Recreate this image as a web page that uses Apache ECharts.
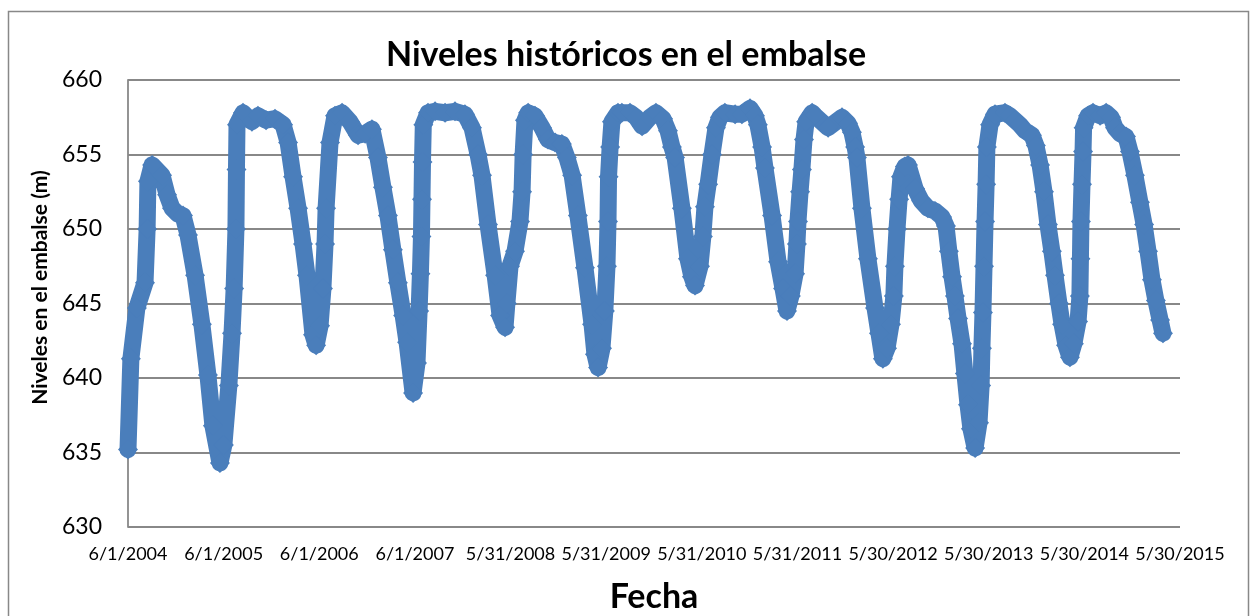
<!DOCTYPE html>
<html>
<head>
<meta charset="utf-8">
<script src="https://cdn.jsdelivr.net/npm/echarts@6/dist/echarts.min.js"></script>
<style>
  html, body { margin: 0; padding: 0; background: #fff; }
  #main { width: 1252px; height: 616px; }
</style>
</head>
<body>
<div id="main"></div>
<script>
// fechas (aprox.)
const fechas = [
  '2004-06-01','2004-06-12','2004-07-05','2004-08-05','2004-08-13','2004-08-16','2004-09-01','2004-10-09','2004-10-28','2004-11-16',
  '2004-12-09','2004-12-28','2005-01-16','2005-02-12','2005-03-10','2005-04-02','2005-04-21','2005-05-18','2005-06-02','2005-06-21',
  '2005-07-03','2005-07-11','2005-07-18','2005-07-20','2005-07-22','2005-08-14','2005-09-17','2005-10-10','2005-11-10','2005-12-14',
  '2006-01-14','2006-02-02','2006-02-21','2006-03-12','2006-03-31','2006-04-15','2006-05-08','2006-05-20','2006-06-04','2006-06-15',
  '2006-06-23','2006-06-27','2006-07-12','2006-07-31','2006-08-27','2006-09-26','2006-10-27','2006-11-23','2006-12-19','2007-01-11',
  '2007-01-30','2007-02-18','2007-03-09','2007-03-28','2007-04-17','2007-05-02','2007-05-25','2007-06-09','2007-06-17','2007-06-22',
  '2007-06-26','2007-06-28','2007-06-30','2007-07-03','2007-07-21','2007-08-17','2007-09-24','2007-11-01','2007-12-09','2008-01-05',
  '2008-01-28','2008-02-12','2008-03-06','2008-04-02','2008-04-21','2008-05-10','2008-05-17','2008-05-29','2008-06-17','2008-07-06',
  '2008-07-14','2008-07-18','2008-07-25','2008-08-06','2008-09-01','2008-09-28','2008-10-21','2008-11-17','2008-12-13','2009-01-01',
  '2009-01-21','2009-02-12','2009-03-11','2009-04-07','2009-04-18','2009-04-30','2009-05-15','2009-05-26','2009-06-03','2009-06-07',
  '2009-06-09','2009-06-15','2009-06-22','2009-07-15','2009-07-30','2009-08-30','2009-09-22','2009-10-15','2009-11-14','2009-12-07',
  '2010-01-03','2010-01-22','2010-02-06','2010-02-18','2010-03-16','2010-04-08','2010-04-23','2010-05-05','2010-05-24','2010-06-04',
  '2010-06-12','2010-06-24','2010-07-09','2010-07-24','2010-08-08','2010-08-27','2010-10-05','2010-10-31','2010-12-01','2010-12-20',
  '2010-12-31','2011-01-16','2011-01-27','2011-02-23','2011-03-18','2011-04-06','2011-04-21','2011-05-06','2011-05-22','2011-05-29',
  '2011-06-02','2011-06-10','2011-06-17','2011-06-25','2011-07-03','2011-07-26','2011-08-06','2011-09-25','2011-11-17','2011-12-10',
  '2011-12-25','2012-01-06','2012-01-13','2012-02-01','2012-02-24','2012-03-22','2012-04-06','2012-04-21','2012-05-07','2012-05-22',
  '2012-06-02','2012-06-06','2012-06-14','2012-06-22','2012-06-29','2012-07-14','2012-07-26','2012-08-22','2012-09-14','2012-10-10',
  '2012-11-06','2012-12-03','2012-12-18','2012-12-29','2013-01-10','2013-01-21','2013-02-02','2013-02-17','2013-02-28','2013-03-12',
  '2013-03-23','2013-04-08','2013-04-23','2013-05-01','2013-05-04','2013-05-08','2013-05-12','2013-05-16','2013-05-20','2013-05-23',
  '2013-06-04','2013-06-23','2013-07-31','2013-08-19','2013-09-07','2013-09-26','2013-10-15','2013-11-11','2013-11-26','2013-12-12',
  '2013-12-27','2014-01-11','2014-01-26','2014-02-07','2014-02-22','2014-03-06','2014-03-21','2014-04-05','2014-04-20','2014-05-06',
  '2014-05-13','2014-05-15','2014-05-17','2014-05-21','2014-05-25','2014-05-27','2014-06-13','2014-07-02','2014-07-29','2014-08-21',
  '2014-09-09','2014-09-24','2014-10-13','2014-11-05','2014-11-20','2014-12-09','2014-12-28','2015-01-13','2015-01-28','2015-02-12',
  '2015-02-27','2015-03-15','2015-03-26'
];

// niveles en el embalse (m)
const niveles = [
  635.2, 641.3, 644.7, 646.4, 650.0, 653.2, 654.3, 653.6, 652.3, 651.4,
  651.0, 650.9, 649.6, 646.9, 643.6, 640.2, 636.8, 634.3, 635.5, 639.5,
  643.0, 646.0, 650.0, 654.0, 657.0, 657.8, 657.2, 657.6, 657.3, 657.4,
  657.0, 655.8, 653.5, 651.4, 649.0, 646.9, 642.9, 642.2, 643.5, 646.0,
  649.0, 651.4, 655.8, 657.6, 657.8, 657.2, 656.3, 656.4, 656.7, 654.8,
  652.8, 650.9, 648.6, 646.4, 644.2, 642.4, 639.0, 641.0, 644.5, 647.0,
  649.5, 652.0, 654.5, 657.0, 657.8, 657.9, 657.8, 657.9, 657.7, 656.8,
  655.0, 653.6, 650.3, 646.9, 644.2, 643.4, 645.0, 647.5, 648.5, 650.5,
  652.5, 655.0, 657.3, 657.8, 657.6, 656.8, 656.0, 655.8, 655.7, 654.8,
  653.6, 650.9, 647.4, 643.6, 641.6, 640.7, 642.0, 644.5, 647.5, 650.5,
  653.5, 655.5, 657.2, 657.8, 657.8, 657.8, 657.5, 656.9, 657.5, 657.8,
  657.4, 656.6, 655.5, 654.8, 651.4, 648.0, 646.8, 646.2, 647.5, 649.5,
  651.5, 653.0, 655.0, 656.8, 657.5, 657.8, 657.7, 657.7, 658.1, 657.6,
  657.0, 655.5, 654.1, 650.9, 647.8, 646.0, 644.5, 645.5, 647.0, 649.0,
  650.5, 652.5, 654.0, 656.0, 657.2, 657.8, 657.6, 656.8, 657.5, 657.1,
  656.5, 655.5, 654.8, 651.4, 648.0, 644.7, 643.0, 641.3, 642.0, 643.6,
  645.5, 647.5, 650.0, 652.0, 653.5, 654.2, 654.3, 652.7, 651.9, 651.4,
  651.2, 650.8, 650.2, 648.5, 646.8, 645.5, 644.0, 642.3, 640.3, 638.2,
  636.6, 635.3, 637.0, 639.5, 642.0, 644.4, 647.5, 650.5, 653.0, 655.5,
  657.0, 657.7, 657.8, 657.6, 657.3, 657.0, 656.6, 656.3, 655.6, 654.3,
  652.5, 650.3, 648.5, 646.9, 645.0, 643.6, 642.2, 641.4, 642.3, 643.8,
  645.5, 648.0, 650.5, 653.0, 655.2, 656.8, 657.6, 657.8, 657.6, 657.8,
  657.5, 656.8, 656.4, 656.2, 655.2, 653.6, 651.8, 650.3, 648.5, 646.6,
  645.2, 643.9, 643.0
];

// eje x: dias desde 6/1/2004, una marca cada 365 dias
const inicio = Date.UTC(2004, 5, 1);
const DIA = 86400000;
const ejeXMax = 4015;
const pasoX = 365;

function diasDesdeInicio(s) {
  const p = s.split('-');
  return Math.round((Date.UTC(+p[0], +p[1] - 1, +p[2]) - inicio) / DIA);
}

function etiquetaFecha(v) {
  const d = new Date(inicio + v * DIA);
  return (d.getUTCMonth() + 1) + '/' + d.getUTCDate() + '/' + d.getUTCFullYear();
}

const puntos = fechas.map((f, i) => [diasDesdeInicio(f), niveles[i]]);

const azul = '#4a7ebb';
const gris = '#888888';
const fuente = 'Lato';

const myChart = echarts.init(document.getElementById('main'));
myChart.setOption({
  animation: false,
  backgroundColor: '#fff',
  textStyle: { fontFamily: fuente },
  title: {
    text: 'Niveles históricos en el embalse',
    left: 'center',
    top: 33,
    textStyle: { fontFamily: fuente, fontSize: 34, fontWeight: 'bold', color: '#000' }
  },
  graphic: [{
    type: 'rect',
    left: 6,
    top: 9,
    shape: { width: 1240, height: 640 },
    style: { fill: 'none', stroke: gris, lineWidth: 1.5 },
    silent: true
  }],
  grid: { left: 128, right: 72, top: 80, bottom: 89, outerBoundsMode: 'none' },
  xAxis: {
    type: 'value',
    min: 0,
    max: ejeXMax,
    interval: pasoX,
    name: 'Fecha',
    nameLocation: 'middle',
    nameGap: 53,
    nameTextStyle: { fontFamily: fuente, fontSize: 34, fontWeight: 'bold', color: '#000' },
    axisLine: { show: false },
    axisTick: { show: false },
    splitLine: { show: false },
    axisLabel: {
      margin: 18,
      fontSize: 18,
      color: '#000',
      formatter: etiquetaFecha
    }
  },
  yAxis: {
    type: 'value',
    min: 630,
    max: 660,
    interval: 5,
    name: 'Niveles en el embalse (m)',
    nameLocation: 'middle',
    nameGap: 75,
    nameRotate: 90,
    nameTextStyle: { fontFamily: fuente, fontSize: 21, fontWeight: 'bold', color: '#000', padding: [0, 0, 0, 32] },
    axisLine: { show: true, lineStyle: { color: gris, width: 1.8 } },
    axisTick: { show: false },
    axisLabel: { margin: 26, fontSize: 23, color: '#000' },
    splitLine: { show: true, lineStyle: { color: gris, width: 1.8 } }
  },
  series: [{
    name: 'Niveles',
    type: 'line',
    data: puntos,
    symbol: 'diamond',
    symbolSize: 20,
    showAllSymbol: true,
    color: azul,
    itemStyle: { color: azul, borderWidth: 0 },
    lineStyle: { color: azul, width: 17, join: 'round', cap: 'round' },
    clip: false
  }]
});
</script>
</body>
</html>
